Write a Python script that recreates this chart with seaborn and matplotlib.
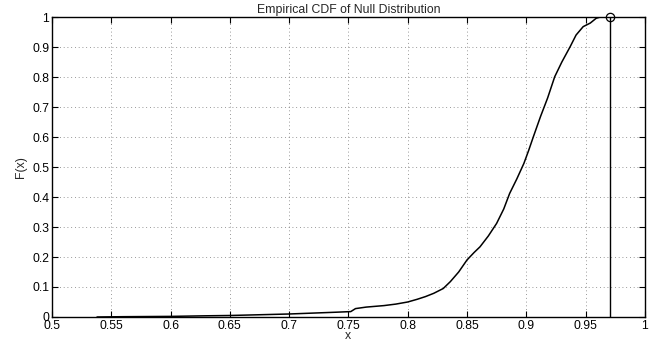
import matplotlib
matplotlib.use("Agg")
import matplotlib.pyplot as plt
import seaborn as sns
import pandas as pd

# Empirical CDF points
cdf_x = [0.538, 0.56, 0.60, 0.63, 0.65, 0.68, 0.70, 0.72, 0.74, 0.752, 0.756, 0.765,
         0.78, 0.79, 0.80, 0.808, 0.815, 0.822, 0.83, 0.836, 0.843, 0.850, 0.856,
         0.861, 0.868, 0.875, 0.881, 0.886, 0.892, 0.898, 0.902, 0.906, 0.912,
         0.918, 0.924, 0.930, 0.937, 0.942, 0.948, 0.954, 0.959, 0.9625, 0.971]
cdf_y = [0.0, 0.001, 0.002, 0.004, 0.005, 0.008, 0.010, 0.013, 0.016, 0.018, 0.028, 0.033,
         0.038, 0.043, 0.050, 0.059, 0.068, 0.079, 0.095, 0.118, 0.150, 0.190, 0.215,
         0.234, 0.270, 0.312, 0.360, 0.412, 0.460, 0.512, 0.555, 0.601, 0.668,
         0.730, 0.801, 0.850, 0.901, 0.940, 0.968, 0.980, 0.996, 1.0, 1.0]
stat_x = 0.971
x_ticks = [0.5, 0.55, 0.6, 0.65, 0.7, 0.75, 0.8, 0.85, 0.9, 0.95, 1.0]
x_tick_labels = ["0.5", "0.55", "0.6", "0.65", "0.7", "0.75", "0.8", "0.85", "0.9", "0.95", "1"]
y_ticks = [0, 0.1, 0.2, 0.3, 0.4, 0.5, 0.6, 0.7, 0.8, 0.9, 1.0]
y_tick_labels = ["0", "0.1", "0.2", "0.3", "0.4", "0.5", "0.6", "0.7", "0.8", "0.9", "1"]

sns.set_style("white")
plt.rcParams["font.family"] = ["Liberation Sans", "DejaVu Sans"]

fig = plt.figure(figsize=(6.52, 3.41), dpi=100)
ax = fig.add_axes([0.0797, 0.0704, 0.9093, 0.8796])

df = pd.DataFrame({"x": cdf_x, "y": cdf_y})
sns.lineplot(data=df, x="x", y="y", sort=False, color="black", linewidth=1.1, ax=ax)
ax.plot([stat_x, stat_x], [0, 1], color="black", linewidth=1.0)
ax.plot([stat_x], [1], marker="o", markersize=6, markerfacecolor="none",
        markeredgecolor="black", markeredgewidth=0.9, clip_on=False)

ax.set_xlim(0.5, 1.0)
ax.set_ylim(0, 1)
ax.set_xticks(x_ticks)
ax.set_xticklabels(x_tick_labels)
ax.set_yticks(y_ticks)
ax.set_yticklabels(y_tick_labels)
ax.grid(True, linestyle=(0, (1, 3.5)), color="#555555", linewidth=0.6, alpha=0.8)
ax.tick_params(direction="in", length=4, width=0.8, labelsize=8.8, colors="black",
               top=True, right=True, bottom=True, left=True, pad=2)
for s in ax.spines.values():
    s.set_visible(True)
    s.set_color("black")
    s.set_linewidth(1.0)

ax.set_title("Empirical CDF of Null Distribution", fontsize=8.8, pad=3)
ax.set_xlabel("x", fontsize=8.8, labelpad=-1)
ax.set_ylabel("F(x)", fontsize=8.8, labelpad=4)

fig.savefig("out.png", dpi=100)
